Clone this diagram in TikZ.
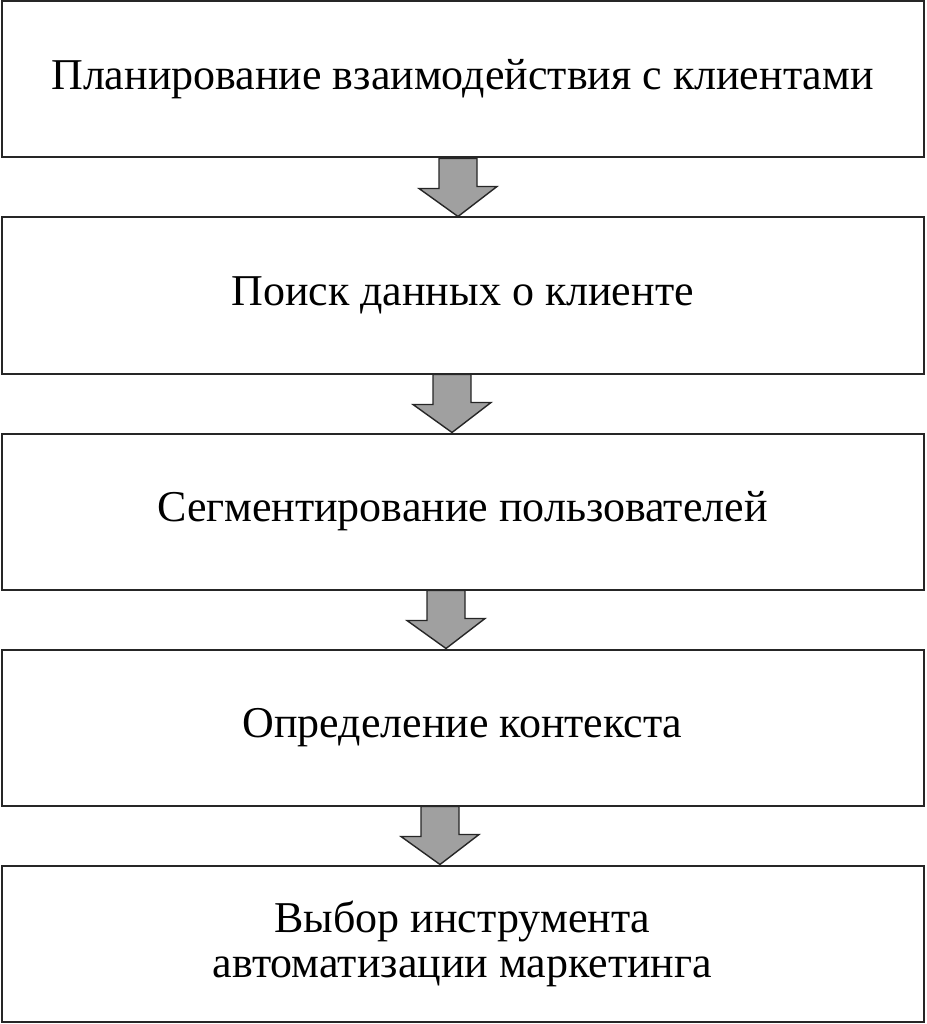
\documentclass[tikz,border=0pt]{standalone}
\usepackage{fontspec}
\setmainfont{Liberation Serif}
\usepackage{tikz}
\usetikzlibrary{positioning, calc}
\definecolor{arrowgray}{RGB}{160,160,160}
\tikzset{
    stagebox/.style={rectangle, draw=black!85, line width=2pt, fill=white,
                     align=center, minimum width=922pt, minimum height=156pt,
                     inner sep=0pt, font=\fontsize{44}{45}\selectfont},
    blockarrow/.style={draw=black!85, line width=1.4pt, fill=arrowgray,
                       line join=miter},
}

\begin{document}
\begin{tikzpicture}[x=1pt, y=1pt, node distance=58pt]
        \useasboundingbox (0,0) rectangle (926,-1024);
        \node[stagebox] (plan) at (462.5,-79.5) {Планирование взаимодействия с клиентами};
        \node[stagebox, below=of plan] (poisk) {Поиск данных о клиенте};
        \node[stagebox, below=of poisk] (segm) {Сегментирование пользователей};
        \node[stagebox, below=of segm] (kontekst) {Определение контекста};
        \node[stagebox, below=of kontekst] (vybor) {Выбор инструмента\\автоматизации маркетинга};
        \foreach \a/\b/\dx in {plan/poisk/-4.5, poisk/segm/-10.5, segm/kontekst/-16.5, kontekst/vybor/-22.5}
            \draw[blockarrow] ($(\a.south)+(\dx-19,0)$) -- ++(0,-30) -- ++(-20,0)
                -- ($(\b.north)+(\dx,0)$) -- ++(39,30) -- ++(-20,0)
                -- ($(\a.south)+(\dx+19,0)$) -- cycle;
    \end{tikzpicture}
\end{document}
